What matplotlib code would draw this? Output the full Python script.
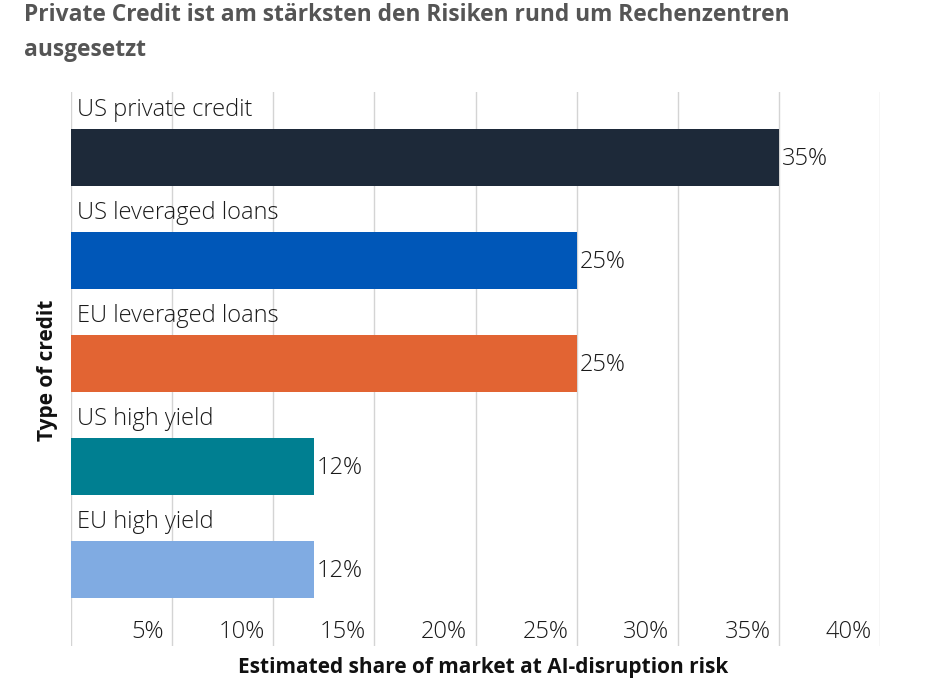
import numpy as np
import matplotlib.pyplot as plt
from matplotlib.transforms import blended_transform_factory

plt.rcParams['font.family'] = ['Open Sans', 'DejaVu Sans']

# data
categories = ['US private credit', 'US leveraged loans', 'EU leveraged loans',
              'US high yield', 'EU high yield']
values = [35, 25, 25, 12, 12]
colors = ['#1d2939', '#0057b8', '#e26433', '#007f91', '#80abe2']
ticks = [5, 10, 15, 20, 25, 30, 35, 40]
tick_labels = ['5%', '10%', '15%', '20%', '25%', '30%', '35%', '40%']

fig = plt.figure(figsize=(9.42, 6.84), dpi=100)
ax = fig.add_axes([71/942, 1-646/684, (880-71)/942, (646-92)/684])

ypos = np.arange(len(categories))
ax.barh(ypos, values, height=0.553, color=colors, zorder=2)

ax.set_xlim(0, 40)
ax.set_ylim(4.743, -0.636)

# grid
for g in [0] + ticks:
    ax.axvline(g, color='#d4d4d4', lw=1, zorder=1)

for y, c, v in zip(ypos, categories, values):
    ax.text(0.3, y - 0.46, c, ha='left', va='center', fontsize=17,
            fontweight='light', color='#1a1a1a', zorder=3)
    ax.text(v + 0.15, y + 0.01, '%d%%' % v, ha='left', va='center',
            fontsize=17, fontweight='light', color='#1a1a1a', zorder=3)

trans = blended_transform_factory(ax.transData, ax.transAxes)
for t, lab in zip(ticks, tick_labels):
    ax.text(t - 0.42, 0.025, lab, transform=trans, ha='right', va='center',
            fontsize=17, fontweight='light', color='#1a1a1a')

ax.set_xticks([])
ax.set_yticks([])
for s in ax.spines.values():
    s.set_visible(False)

fig.text(24/942, 1-15/684, 'Private Credit ist am stärksten den Risiken rund um Rechenzentren',
         fontsize=16.4, fontweight='bold', color='#555555', ha='left', va='center')
fig.text(24/942, 1-50/684, 'ausgesetzt', fontsize=16.4, fontweight='bold',
         color='#555555', ha='left', va='center')

fig.text(47/942, 1-370/684, 'Type of credit', rotation=90, fontsize=15,
         fontweight='bold', color='#111111', ha='center', va='center')
fig.text(483/942, 1-668/684, 'Estimated share of market at AI-disruption risk',
         fontsize=15, fontweight='bold', color='#111111', ha='center', va='center')

fig.savefig('out.png', dpi=100)
